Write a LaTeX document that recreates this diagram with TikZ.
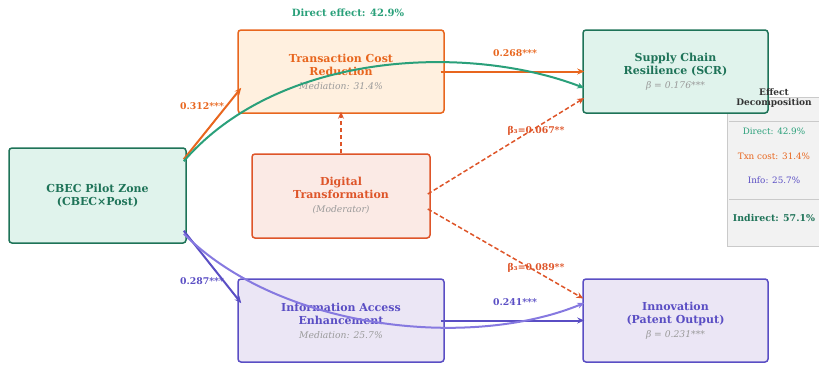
\documentclass[tikz,border=0pt]{standalone}
\usepackage{fontspec}
\setmainfont{DejaVu Serif}
\usetikzlibrary{arrows.meta, positioning, calc}

\definecolor{zoneGreen}{HTML}{1E7358}
\definecolor{zoneFill}{HTML}{E0F3EC}
\definecolor{directGreen}{HTML}{2AA07A}
\definecolor{costOrange}{HTML}{E8661E}
\definecolor{costFill}{HTML}{FFF0DF}
\definecolor{digiRed}{HTML}{DE5529}
\definecolor{digiFill}{HTML}{FBEAE5}
\definecolor{infoBlue}{HTML}{5A4EC4}
\definecolor{infoFill}{HTML}{EBE6F5}
\definecolor{infoLight}{HTML}{8679E0}
\definecolor{noteGray}{HTML}{9A9A9A}
\definecolor{decoFill}{HTML}{F2F2F2}
\definecolor{decoLine}{HTML}{CACACA}

\newcommand{\boxnote}[1]{\\[1pt]{\fontsize{9.2}{11}\selectfont\mdseries\itshape\color{noteGray}#1}}

\begin{document}
\begin{tikzpicture}[x=1pt, y=-1pt,
    box/.style={draw, rounded corners=3pt, line width=1.5pt, align=center, inner sep=2pt,
        font=\fontsize{11}{13}\selectfont\bfseries},
    zone/.style={box, draw=zoneGreen, fill=zoneFill, text=zoneGreen},
    cost/.style={box, draw=costOrange, fill=costFill, text=costOrange},
    digi/.style={box, draw=digiRed, fill=digiFill, text=digiRed},
    info/.style={box, draw=infoBlue, fill=infoFill, text=infoBlue},
    link/.style={line width=2pt, -{Stealth[length=7pt, width=6pt]}},
    modlink/.style={line width=1.5pt, digiRed, dash pattern=on 4.5pt off 2.5pt, -{Stealth[length=7pt, width=6pt]}},
    lab/.style={font=\fontsize{9.3}{11}\selectfont\bfseries},
    deco/.style={font=\fontsize{8.8}{10}\selectfont}
]
    \useasboundingbox (0,0) rectangle (819,364);

    % effect decomposition panel (behind the SCR box)
    \node[draw=decoLine, fill=decoFill, line width=1pt, minimum width=92pt, minimum height=149pt, inner sep=0pt]
        (decobox) at (773,171.5) {};
    \draw[decoLine, line width=1pt] (729,121) -- (819,121);
    \draw[decoLine, line width=1pt] (729,199) -- (819,199);

    % boxes
    \node[zone, minimum width=177pt, minimum height=95pt] (cbec) at (97.5,195.5) {CBEC Pilot Zone\\(CBEC×Post)};
    \node[cost, minimum width=206pt, minimum height=83pt] (trans) at (341,71.5)
        {Transaction Cost\\Reduction\boxnote{Mediation: 31.4\%}};
    \node[digi, minimum width=178pt, minimum height=84pt] (digital) at (341,196)
        {Digital\\Transformation\boxnote{(Moderator)}};
    \node[info, minimum width=206pt, minimum height=83pt] (access) at (341,320.5)
        {Information Access\\Enhancement\boxnote{Mediation: 25.7\%}};
    \node[zone, minimum width=185pt, minimum height=83pt] (scr) at (675.5,71.5)
        {Supply Chain\\Resilience (SCR)\boxnote{β = 0.176***}};
    \node[info, minimum width=185pt, minimum height=83pt] (innov) at (675.5,320.5)
        {Innovation\\(Patent Output)\boxnote{β = 0.231***}};

    % panel texts
    \node[deco, font=\fontsize{9}{10}\selectfont\bfseries, text=black!80, align=center] (decotitle) at (774,98) {Effect\\Decomposition};
    \node[deco, text=directGreen] (decodirect) at (774,131) {Direct: 42.9\%};
    \node[deco, text=costOrange] (decocost) at (774,156) {Txn cost: 31.4\%};
    \node[deco, text=infoBlue] (decoinfo) at (774,180) {Info: 25.7\%};
    \node[deco, font=\fontsize{9.4}{10}\selectfont\bfseries, text=zoneGreen] (decoindirect) at (774,218) {Indirect: 57.1\%};

    % mediation paths
    \draw[link, costOrange] ($(cbec.north east)+(-3,12)$) -- ($(trans.south west)+(4,-26)$);
    \draw[link, costOrange] ($(trans.east)+(-4,0)$) -- ($(scr.west)+(2,0)$);
    \draw[link, infoBlue] ($(cbec.south east)+(-3,-13)$) -- ($(access.north west)+(4,25)$);
    \draw[link, infoBlue] ($(access.east)+(-4,0)$) -- ($(innov.west)+(2,0)$);

    % direct effects
    \draw[link, directGreen] ($(cbec.north east)+(-3,14)$) .. controls (280,50) and (470,44) .. ($(scr.west)+(2,16.5)$);
    \draw[link, infoLight] ($(cbec.south east)+(-3,-10)$) .. controls (280,330) and (470,350) .. ($(innov.west)+(2,-17.5)$);

    % moderation
    \draw[modlink] (digital.north) -- ($(trans.south)+(0,-2)$);
    \draw[modlink] ($(digital.east)+(-3,-2)$) -- ($(scr.west)+(2,26.5)$);
    \draw[modlink] ($(digital.east)+(-3,13)$) -- ($(innov.west)+(1,-22)$);

    % labels
    \node[lab, font=\fontsize{10}{12}\selectfont\bfseries, text=directGreen] (ldirect) at (348,13) {Direct effect: 42.9\%};
    \node[lab, text=costOrange] (l312) at (202,106) {0.312***};
    \node[lab, text=infoBlue] (l287) at (202,281) {0.287***};
    \node[lab, text=costOrange] (l268) at (515,53) {0.268***};
    \node[lab, text=infoBlue] (l241) at (515,302) {0.241***};
    \node[lab, text=digiRed] (lmod1) at (536,131) {β₃=0.067**};
    \node[lab, text=digiRed] (lmod2) at (536,268) {β₃=0.089**};
\end{tikzpicture}
\end{document}
